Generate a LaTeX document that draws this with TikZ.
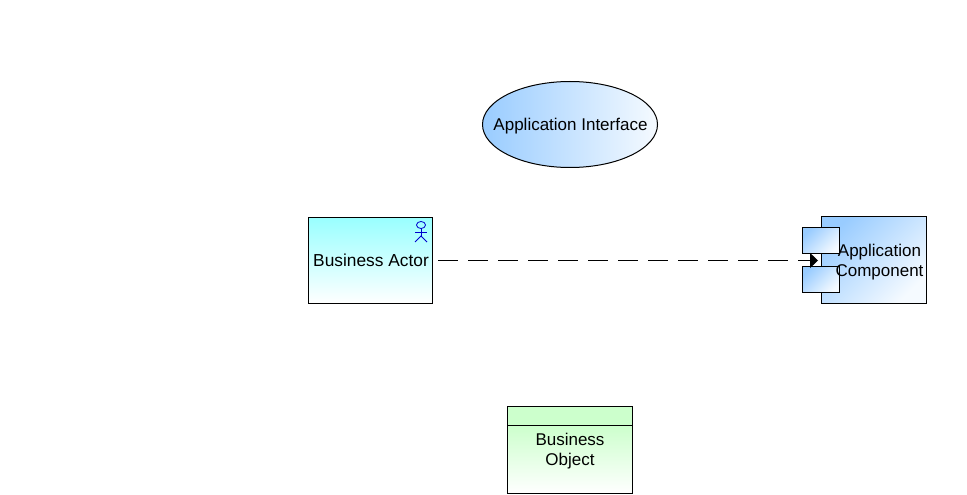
\documentclass[tikz,border=0pt]{standalone}
\usepackage{fontspec}
\setmainfont{Liberation Sans}
\usetikzlibrary{shapes.geometric, arrows.meta, positioning}
\definecolor{appblue}{RGB}{153, 204, 255}
\definecolor{append}{RGB}{245, 250, 255}
\definecolor{actorcyan}{RGB}{153, 255, 255}
\definecolor{objgreen}{RGB}{204, 255, 204}
\begin{document}
\begin{tikzpicture}[
    x=0.75pt, y=-0.75pt,
    line width=0.75pt,
    every node/.style={font=\fontsize{12.75}{15}\selectfont, align=center, inner sep=0pt, outer sep=0pt},
    appbox/.style={rectangle, draw, left color=appblue, right color=append, shading angle=45},
    tabbox/.style={appbox, minimum width=28pt, minimum height=19.5pt},
    actorbox/.style={rectangle, draw, top color=actorcyan, bottom color=white},
    objbody/.style={rectangle, draw, top color=objgreen, bottom color=white},
    arrow/.style={-{Triangle[length=6pt, width=11.25pt]}, dash pattern=on 15pt off 7.5pt}
]
    \useasboundingbox (0,0) rectangle (967,495);

    \node[ellipse, draw, left color=appblue, right color=append, minimum width=131.25pt, minimum height=64.5pt] (iface) at (570,124.5) {};
    \node (ifacelabel) at (570.5,126.5) {Application Interface};

    \node[actorbox, minimum width=93pt, minimum height=64.5pt] (actor) at (370,260.5) {};
    \node[font=\fontsize{13}{15}\selectfont] (actorlabel) at (371,260) {Business Actor};

    % stick figure in the corner of the actor
    \begin{scope}[blue!80!black, line width=0.6pt]
        \draw (421,225) ellipse (4.5 and 3.5);
        \draw (421,228.5) -- (421,236) (415,232) -- (427,232);
        \draw (415,242) -- (421,236) -- (427,242);
    \end{scope}

    \node[appbox, minimum width=78.75pt, minimum height=65.25pt] (comp) at (873.5,260) {};
    \node[tabbox] (tabtop) at (821,240.5) {};
    \node[tabbox] (tabbot) at (821,279.5) {};
    \node (complabel) at (879.5,262) {Application\\Component};

    \node[rectangle, draw, fill=objgreen, minimum width=93.75pt, minimum height=14.25pt] (objhead) at (569.5,415.5) {};
    \node[objbody, minimum width=93.75pt, minimum height=51pt, below=0pt of objhead] (obj) {};
    \node (objlabel) at (570,451.5) {Business\\Object};

    \draw[arrow, shorten <=4.5pt, shorten >=2.25pt] (actor.east) -- (actor.east -| comp.west);
\end{tikzpicture}
\end{document}
